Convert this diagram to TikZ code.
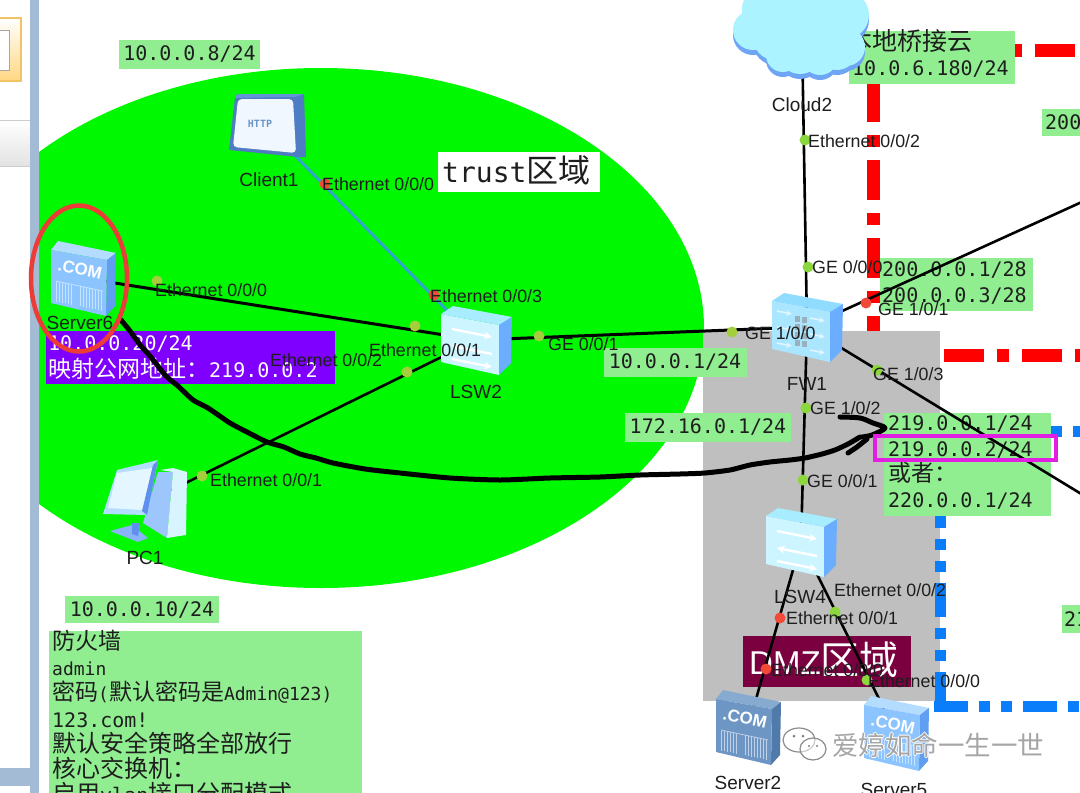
\documentclass[tikz,border=0pt]{standalone}
\usepackage{fontspec}
\setmainfont{Liberation Sans}
\newfontfamily\monof{DejaVu Sans Mono}
\newfontfamily\cjk{Noto Sans CJK SC}
\definecolor{lg}{HTML}{90EE90}
\definecolor{pdot}{HTML}{8CD63E}
\definecolor{gdot}{HTML}{A4CF3C}
\definecolor{rdot}{HTML}{F24A38}
\definecolor{txt}{HTML}{1E1E1E}
\definecolor{zonegreen}{HTML}{00F800}
\definecolor{chrome}{HTML}{A3BBD4}
\definecolor{tabedge}{HTML}{F0C364}
\definecolor{tabfill}{HTML}{FFD782}
\definecolor{zonegray}{HTML}{BFBFBF}
\definecolor{zoneblue}{HTML}{0A7DFA}
\definecolor{purplebox}{HTML}{7F00FF}
\definecolor{dmzred}{HTML}{7A0040}
\definecolor{teal}{HTML}{2DAAC8}
\definecolor{srvface}{HTML}{8CC4FF}
\definecolor{srvtop}{HTML}{B4DCFF}
\definecolor{srvside}{HTML}{5F9EF0}
\definecolor{srvbar}{HTML}{C4E4FF}
\definecolor{dsrvface}{HTML}{6E96C4}
\definecolor{dsrvtop}{HTML}{86AAD0}
\definecolor{dsrvside}{HTML}{507AAA}
\definecolor{dsrvbar}{HTML}{C0D0E6}
\definecolor{boxside}{HTML}{6BAEFF}
\definecolor{swface}{HTML}{CDF5FF}
\definecolor{swtop}{HTML}{A8ECFF}
\definecolor{fwface}{HTML}{AAE6FF}
\definecolor{fwtop}{HTML}{90DCFF}
\definecolor{fwbrick}{HTML}{9AB0BC}
\definecolor{fwarrow}{HTML}{DDF6FF}
\definecolor{clidark}{HTML}{4E7DC3}
\definecolor{climid}{HTML}{6496D7}
\definecolor{cliscreen}{HTML}{F0F7FF}
\definecolor{clitext}{HTML}{6A94C8}
\definecolor{pcblue}{HTML}{8AB4FA}
\definecolor{pcstrip}{HTML}{5F90F0}
\definecolor{pcside}{HTML}{9CC6FC}
\definecolor{pcface}{HTML}{D8F4FF}
\definecolor{pcframe}{HTML}{B4DEFF}
\definecolor{pcscreen}{HTML}{E4F6FF}
\definecolor{cloudshade}{HTML}{6EA5F5}
\definecolor{cloudfill}{HTML}{AAF3FF}
\definecolor{ringred}{HTML}{EB3C37}
\definecolor{pinkline}{HTML}{E11EE1}
\definecolor{wmgray}{HTML}{A5A5A5}
\newcommand{\fs}[1]{\fontsize{#1}{#1}\selectfont}
\newcommand{\serverico}[5]{% node, face, top, side, bar
 \begin{scope}[shift={(#1.center)}]
 \fill[#3] (-32,-28)--(-25,-37)--(33,-25)--(24,-18)--cycle;
 \fill[#4] (24,-18)--(33,-25)--(32,28)--(23,38)--cycle;
 \fill[#2] (-32,-28)--(24,-18)--(23,38)--(-32,25)--cycle;
 \node[rotate=-12,text=white,font=\bfseries\fs{17}] at (-3,-9) {.COM};
 \draw[#5,line width=.8] (-27,3)--(20,13);
 \foreach \x in {-27,-24,-21,-18,-15,-12,-3,0,3,6,9,12,15,18}
   \draw[#5,line width=.9] (\x,{9+.2*\x})--(\x,{29+.2*\x});
 \end{scope}}
\newcommand{\boxico}[2]{% front colour, top colour
 \fill[#1] (-35,-26)--(23,-15)--(23,35)--(-35,22)--cycle;
 \fill[#2] (-35,-26)--(-23,-34)--(36,-23)--(23,-15)--cycle;
 \fill[boxside] (23,-15)--(36,-23)--(35,23)--(23,35)--cycle;}
\tikzset{
 greenbox/.style={fill=lg,inner sep=0pt,text=txt,font=\monof\fs{20}},
 mtext/.style={inner sep=0pt,anchor=west,text=txt,font=\monof\fs{20}},
 ctext/.style={inner sep=0pt,anchor=west,text=txt,font=\cjk\fs{23}},
 portlabel/.style={inner sep=0pt,text=txt,font=\fs{17.8}},
 devlabel/.style={inner sep=0pt,text=txt,font=\fs{19}},
 link/.style={draw=black,line width=3},
 tlink/.style={draw=black,line width=2.6},
 hand/.style={draw=black,line width=5,line cap=round,line join=round},
 pdotg/.style={circle,fill=pdot,inner sep=0pt,minimum size=11},
 pdoty/.style={circle,fill=gdot,inner sep=0pt,minimum size=11},
 pdotr/.style={circle,fill=rdot,inner sep=0pt,minimum size=11},
 anchorbox/.style={inner sep=0pt},
 reddash/.style={draw=red,line width=13,dash pattern=on 40pt off 13pt on 12pt off 13pt},
 bluedash/.style={draw=zoneblue,line width=11,dash pattern=on 34pt off 11pt on 11pt off 11pt on 11pt off 11pt},
}
\begin{document}
\begin{tikzpicture}[x=1pt,y=-1pt]
\useasboundingbox (0,0) rectangle (1080,793);
\clip (0,0) rectangle (1080,793);
\fill[white] (0,0) rectangle (1080,793);
% trust zone
\begin{scope}
 \clip (39,0) rectangle (1080,793);
 \fill[zonegreen] (321,328) ellipse [x radius=383,y radius=260];
\end{scope}
% window chrome at the left
\fill[top color=white,bottom color=gray!22] (0,120) rectangle (30,166);
\draw[gray!40] (0,120)--(30,120) (0,166)--(30,166);
\fill[chrome] (30,0) rectangle (39,793);
\fill[chrome] (0,768) rectangle (30,786);
\filldraw[draw=tabedge,line width=1.5,top color=white,bottom color=tabfill] (-4,18) rectangle (21,81);
\fill[white] (-4,30) rectangle (9,70);
\draw[gray!70] (-4,30) rectangle (9,70);
% dashed zone frames
\draw[reddash] (957,50)--(1085,50);
\draw[reddash] (873,82)--(873,345);
\draw[reddash] (944,355.5)--(1085,355.5);
\fill[zonegray] (703,331) rectangle (940,701);
\draw[bluedash] (1006,431)--(1085,431);
\draw[bluedash] (940,706)--(940,490);
\draw[bluedash] (934,706.5)--(1085,706.5);
% address labels
\node[greenbox,minimum width=141,minimum height=29] (ipclient) at (189.5,54.5) {10.0.0.8/24};
\node[greenbox,minimum width=154,minimum height=27] (ippc) at (142,609.5) {10.0.0.10/24};
\node[greenbox,minimum width=143,minimum height=29] (ipgw) at (675,362) {10.0.0.1/24};
\node[greenbox,minimum width=166,minimum height=29] (ipdmz) at (708,427) {172.16.0.1/24};
\node[greenbox,minimum width=166,minimum height=53] (ipcloud) at (932,57.5) {};
\node[ctext,font=\cjk\fs{25}] (tcloud) at (847,41) {本地桥接云};
\node[mtext] (tcloudip) at (852,69) {10.0.6.180/24};
\node[greenbox,minimum width=153,minimum height=53] (ipout) at (956.5,284.5) {};
\node[mtext] (tout1) at (882,270) {200.0.0.1/28};
\node[mtext] (tout2) at (882,296) {200.0.0.3/28};
\node[greenbox,minimum width=50,minimum height=27,anchor=west] (ipr1) at (1042,122.5) {};
\node[mtext] (tr1) at (1045,122) {200};
\node[greenbox,minimum width=30,minimum height=28,anchor=west] (ipr2) at (1062,619) {};
\node[mtext] (tr2) at (1064,619) {21};
\node[greenbox,minimum width=167,minimum height=103] (ipisp) at (967.5,464.5) {};
\node[mtext] (tisp1) at (888,424) {219.0.0.1/24};
\node[mtext] (tisp2) at (888,450) {219.0.0.2/24};
\node[ctext] (tisp3) at (888,473) {或者：};
\node[mtext] (tisp4) at (888,501) {220.0.0.1/24};
% notes
\node[fill=purplebox,minimum width=289,minimum height=53,inner sep=0pt] (pbox) at (190.5,357.5) {};
\node[mtext,text=white] (p1) at (48,344) {10.0.0.20/24};
\node[anchor=west,inner sep=0pt,text=white,font=\fs{20}] (p2) at (48,369) {{\cjk\fs{23}映射公网地址：}{\monof 219.0.0.2}};
\node[fill=white,minimum width=162,minimum height=40,inner sep=0pt] (trustbox) at (519,172) {};
\node[anchor=west,inner sep=0pt,text=txt] (trusttxt) at (442,170) {{\monof\fs{28}trust}{\cjk\fs{32}区域}};
\node[fill=dmzred,minimum width=168,minimum height=51,inner sep=0pt] (dmzbox) at (827,661.5) {};
\node[anchor=west,inner sep=0pt,text=white] (dmztxt) at (749,660) {{\fs{33}DMZ}{\cjk\fs{39}区域}};
\node[fill=lg,minimum width=313,minimum height=170,inner sep=0pt,anchor=north west] (notes) at (49,631) {};
\node[ctext] (n1) at (52,641) {防火墙};
\node[mtext,font=\monof\fs{18}] (n2) at (52,669) {admin};
\node[ctext] (n3) at (52,692) {密码{\monof\fs{18}(}默认密码是{\monof\fs{18}Admin@123)}};
\node[mtext] (n4) at (52,720) {123.com!};
\node[ctext,font=\cjk\fs{24}] (n5) at (52,743) {默认安全策略全部放行};
\node[ctext,font=\cjk\fs{24}] (n6) at (52,768) {核心交换机：};
\node[ctext,font=\cjk\fs{24}] (n7) at (52,793) {启用{\monof\fs{20}vlan}接口分配模式};
% device anchors
\node[anchorbox,minimum width=65,minimum height=78] (srv6) at (83,278) {};
\node[anchorbox,minimum width=76,minimum height=66] (cli) at (267,127) {};
\node[anchorbox,minimum width=72,minimum height=66] (lsw2) at (476,340) {};
\node[anchorbox,minimum width=88,minimum height=84] (pc) at (145,503) {};
\node[anchorbox,minimum width=135,minimum height=90] (cloud) at (802,35) {};
\node[anchorbox,minimum width=70,minimum height=70] (fw) at (807,327) {};
\node[anchorbox,minimum width=72,minimum height=70] (lsw4) at (801,542) {};
\node[anchorbox,minimum width=65,minimum height=76] (srv2) at (748,727) {};
\node[anchorbox,minimum width=65,minimum height=76] (srv5) at (896,733) {};
\coordinate (ne) at (1106,191);
\coordinate (se) at (1106,509);
% connectors
\draw[link] (srv6.center)--(lsw2.center);
\draw[draw=teal,line width=3] (cli.center)--(lsw2.center);
\draw[tlink] (pc.center)--(lsw2.center);
\draw[link] (lsw2.center)--(fw.center);
\draw[tlink] (cloud.center)--(fw.center);
\draw[tlink] (fw.center)--(ne);
\draw[tlink] (fw.center)--(se);
\draw[tlink] (fw.center)--(lsw4.center);
\draw[tlink] (lsw4.center)--(srv2.center);
\draw[tlink] (lsw4.center)--(srv5.center);
% devices
\serverico{srv6}{srvface}{srvtop}{srvside}{srvbar}
\serverico{srv2}{dsrvface}{dsrvtop}{dsrvside}{dsrvbar}
\serverico{srv5}{srvface}{srvtop}{srvside}{srvbar}
\begin{scope}[shift={(cli.center)}]
 \fill[clidark] (-32,-29)--(37,-33)--(39,30)--(31,30)--(-38,23)--cycle;
 \fill[climid] (-32,-29)--(28,-30)--(37,-33)--(-30,-33)--cycle;
 \fill[rounded corners=4,cliscreen] (-29,-28)--(26,-28)--(29,26)--(-34,20)--cycle;
 \node[text=clitext,inner sep=0pt,font=\monof\bfseries\fs{10}] at (-7,-3) {HTTP};
\end{scope}
\foreach \n in {lsw2,lsw4}{
\begin{scope}[shift={(\n.center)}]
 \boxico{swface}{swtop}
 \draw[white,line width=2.4,-stealth] (-24,-11)--(16,-3);
 \draw[white,line width=2.4,-stealth] (16,14)--(-24,6);
 \draw[white,line width=2.4,-stealth] (-24,19)--(16,27);
\end{scope}}
\begin{scope}[shift={(fw.center)}]
 \boxico{fwface}{fwtop}
 \foreach \yy in {-10,6,22} {\draw[fwarrow,line width=1.6,-stealth] (-30,{\yy-6})--(-15,{\yy-3}); \draw[fwarrow,line width=1.6,-stealth] (3,{\yy+1})--(18,{\yy+4});}
 \foreach \x/\yy in {-12/-11,-5/-10,-12/-3,-5/-2,-12/5,-5/6,-12/13,-5/14} \fill[fwbrick] (\x,\yy) rectangle ++(5,6);
\end{scope}
\begin{scope}[shift={(pc.center)}]
 \fill[pcblue] (-13,20)--(-5,20)--(-7,32)--(-13,30)--cycle;
 \fill[pcblue] (-35,28)--(-13,22)--(3,35)--(-7,39)--cycle;
 \fill[pcstrip] (-13,20)--(-5,20)--(-7,33)--(-13,31)--cycle;
 \fill[pcside] (13,-31)--(28,-31)--(22,35)--(-2,20)--cycle;
 \fill[pcface] (15,-33)--(28,-35)--(42,-31)--(41,32)--(22,35)--(28,-31)--cycle;
 \fill[pcframe] (-28,-33)--(13,-43)--(2,12)--(-42,11)--cycle;
 \fill[pcstrip] (13,-43)--(8,-38)--(-3,8)--(2,12)--cycle;
 \fill[pcscreen] (-28,-30)--(7,-35)--(-3,7)--(-37,5)--cycle;
\end{scope}
% cloud
\foreach \cx/\cy/\r in {753/30/20,770/10/28,783/55/17,800/52/22,820/57/18,846/47/19,845/15/24,800/20/35,828/30/26,775/38/22,837/50/20}
   \fill[cloudshade] (\cx,\cy+5) circle (\r);
\foreach \cx/\cy/\r in {753/30/20,770/10/28,783/55/17,800/52/22,820/57/18,846/47/19,845/15/24,800/20/35,828/30/26,775/38/22,837/50/20}
   \fill[cloudfill] (\cx,\cy) circle (\r);
% port dots
\node[pdoty] (d1) at (157,281) {};
\node[pdoty] (d2) at (415,326) {};
\node[pdotr] (d3) at (325,184) {};
\node[pdotr] (d4) at (434,295) {};
\node[pdoty] (d5) at (202,476) {};
\node[pdoty] (d6) at (407,372) {};
\node[pdoty] (d7) at (539,336) {};
\node[pdoty] (d8) at (732,332) {};
\node[pdotg] (d9) at (805,140) {};
\node[pdotg] (d10) at (808,267) {};
\node[pdotr] (d11) at (866,303) {};
\node[pdotg] (d12) at (877,370) {};
\node[pdotg] (d13) at (806,408) {};
\node[pdotg] (d14) at (803,480) {};
\node[pdotr] (d15) at (780,618) {};
\node[pdotg] (d16) at (835,612) {};
\node[pdotr] (d17) at (766,669) {};
\node[pdotg] (d18) at (867,680) {};
% port and device labels
\node[portlabel,anchor=west] (l1) at (322,184) {Ethernet 0/0/0};
\node[portlabel,anchor=west] (l2) at (155,290) {Ethernet 0/0/0};
\node[portlabel,anchor=west] (l3) at (430,296) {Ethernet 0/0/3};
\node[portlabel,anchor=west] (l4) at (369,350) {Ethernet 0/0/1};
\node[portlabel,anchor=west] (l5) at (270,360) {Ethernet 0/0/2};
\node[portlabel,anchor=west] (l6) at (210,480) {Ethernet 0/0/1};
\node[portlabel,anchor=west] (l7) at (548,344) {GE 0/0/1};
\node[portlabel,anchor=west] (l8) at (745,333) {GE 1/0/0};
\node[portlabel,anchor=west] (l9) at (808,141) {Ethernet 0/0/2};
\node[portlabel,anchor=west] (l10) at (812,267) {GE 0/0/0};
\node[portlabel,anchor=west] (l11) at (878,309) {GE 1/0/1};
\node[portlabel,anchor=west] (l12) at (873,374) {GE 1/0/3};
\node[portlabel,anchor=west] (l13) at (810,408) {GE 1/0/2};
\node[portlabel,anchor=west] (l14) at (807,481) {GE 0/0/1};
\node[portlabel,anchor=west] (l15) at (834,590) {Ethernet 0/0/2};
\node[portlabel,anchor=west] (l16) at (786,618) {Ethernet 0/0/1};
\node[portlabel,anchor=west] (l17) at (771,670) {Ethernet 0/0/0};
\node[portlabel,anchor=west] (l18) at (868,681) {Ethernet 0/0/0};
\node[devlabel] (n-cli) at (269,180) {Client1};
\node[devlabel] (n-srv6) at (80,323) {Server6};
\node[devlabel] (n-lsw2) at (476,392) {LSW2};
\node[devlabel] (n-pc) at (145,558) {PC1};
\node[devlabel] (n-cloud) at (802,105) {Cloud2};
\node[devlabel] (n-fw) at (807,384) {FW1};
\node[devlabel] (n-lsw4) at (800,597) {LSW4};
\node[devlabel] (n-srv2) at (748,783) {Server2};
\node[devlabel] (n-srv5) at (894,790) {Server5};
% hand annotations
\draw[hand] plot[smooth,tension=.4] coordinates {(121,320) (130,331) (141,346) (150,356) (166,376) (178,386) (193,400) (208,408) (230,423) (247,432) (267,442) (284,447) (300,454) (316,458) (333,463) (365,469) (400,473) (450,478) (500,480) (550,478) (600,477) (640,475) (680,474) (705,473) (730,470) (750,465) (770,462) (790,460) (805,458) (822,454) (835,450) (848,444) (860,437)};
\draw[hand] plot[smooth] coordinates {(840,417) (860,418) (873,423) (885,428) (872,435) (862,437)};
\draw[hand] (848,453)--(857,447)--(867,439);
\draw[ringred,line width=4.5] (79,278.5) ellipse [x radius=48,y radius=73];
\draw[pinkline,line width=4.5] (875,436) rectangle (1056,460);
% watermark
\filldraw[fill=white,fill opacity=.55,draw=gray!90,line width=1.2] (799,740) ellipse [x radius=16,y radius=12];
\filldraw[fill=white,fill opacity=.55,draw=gray!90,line width=1.2] (813,749) ellipse [x radius=13,y radius=11];
\fill[gray] (794,736) circle (1.5) (803,736) circle (1.5) (809,746) circle (1.2) (817,746) circle (1.2);
\foreach \dx/\dy in {-1/0,1/0,0/-1,0/1}
  \node[inner sep=0pt,anchor=west,text=white,font=\cjk\fs{26.5}] at (832+\dx,745+\dy) {爱婷如命一生一世};
\node[inner sep=0pt,anchor=west,text=wmgray,font=\cjk\fs{26.5}] (wm) at (832,745) {爱婷如命一生一世};
\end{tikzpicture}
\end{document}
